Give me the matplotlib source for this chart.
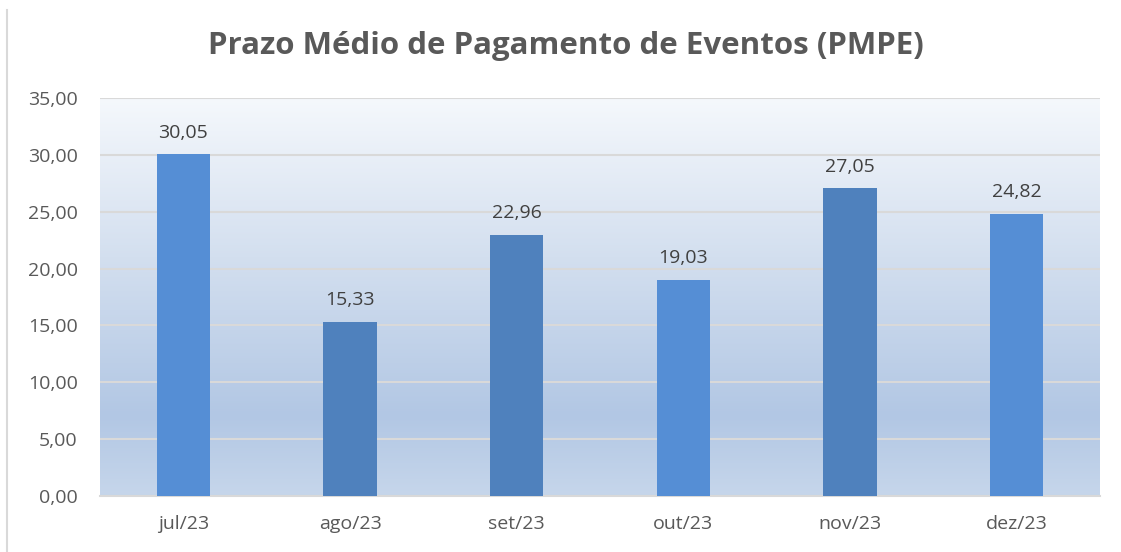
import numpy as np
import matplotlib.pyplot as plt
from matplotlib.colors import LinearSegmentedColormap

# data
meses = ["jul/23", "ago/23", "set/23", "out/23", "nov/23", "dez/23"]
pmpe = [30.05, 15.33, 22.96, 19.03, 27.05, 24.82]
cores = ["#558ED5", "#4F81BD", "#4F81BD", "#558ED5", "#4F81BD", "#558ED5"]
yticks = [0, 5, 10, 15, 20, 25, 30, 35]

plt.rcParams['font.family'] = ['Open Sans', 'DejaVu Sans']

fig = plt.figure(figsize=(11.21, 5.52), dpi=100)
ax = fig.add_axes([100 / 1121, 56 / 552, 1000 / 1121, 398 / 552])

# gradient background
grad = LinearSegmentedColormap.from_list(
    "fundo", [(0, "#C6D6EB"), (0.2, "#B2C7E4"), (0.6, "#D3DFEF"), (1, "#F5F8FC")])
ax.imshow(np.linspace(0, 1, 256).reshape(-1, 1), aspect='auto', cmap=grad,
          extent=[-0.5, 5.5, 0, 35], origin='lower', zorder=0)

x = np.arange(len(meses))
bars = ax.bar(x, pmpe, width=0.32, color=cores, zorder=3)

for b, v in zip(bars, pmpe):
    ax.text(b.get_x() + b.get_width() / 2, v + 1.1, f"{v:.2f}".replace(".", ","),
            ha='center', va='bottom', fontsize=14, color="#404040", zorder=4)

ax.set_xlim(-0.5, 5.5)
ax.set_ylim(0, 35)
ax.set_yticks(yticks)
ax.set_yticklabels([f"{t:.2f}".replace(".", ",") for t in yticks])
ax.set_xticks(x)
ax.set_xticklabels(meses)
ax.tick_params(length=0, labelsize=14, labelcolor="#595959")
ax.tick_params(axis='y', pad=16)
ax.tick_params(axis='x', pad=14)
ax.yaxis.grid(True, color="#D9D9D9", linewidth=1.5, zorder=1)
for s in ["top", "right", "left"]:
    ax.spines[s].set_visible(False)
ax.spines["bottom"].set_color("#D9D9D9")
ax.spines["bottom"].set_linewidth(1.5)

fig.text(0.505, 1 - 46 / 552, "Prazo Médio de Pagamento de Eventos (PMPE)",
         ha='center', va='center', fontsize=22.5, fontweight='bold', color="#595959")

# left border line
fig.add_artist(plt.Line2D([7 / 1121, 7 / 1121], [0, 1 - 10 / 552],
                          color="#D9D9D9", linewidth=1.5))

fig.savefig("out.png", dpi=100)
